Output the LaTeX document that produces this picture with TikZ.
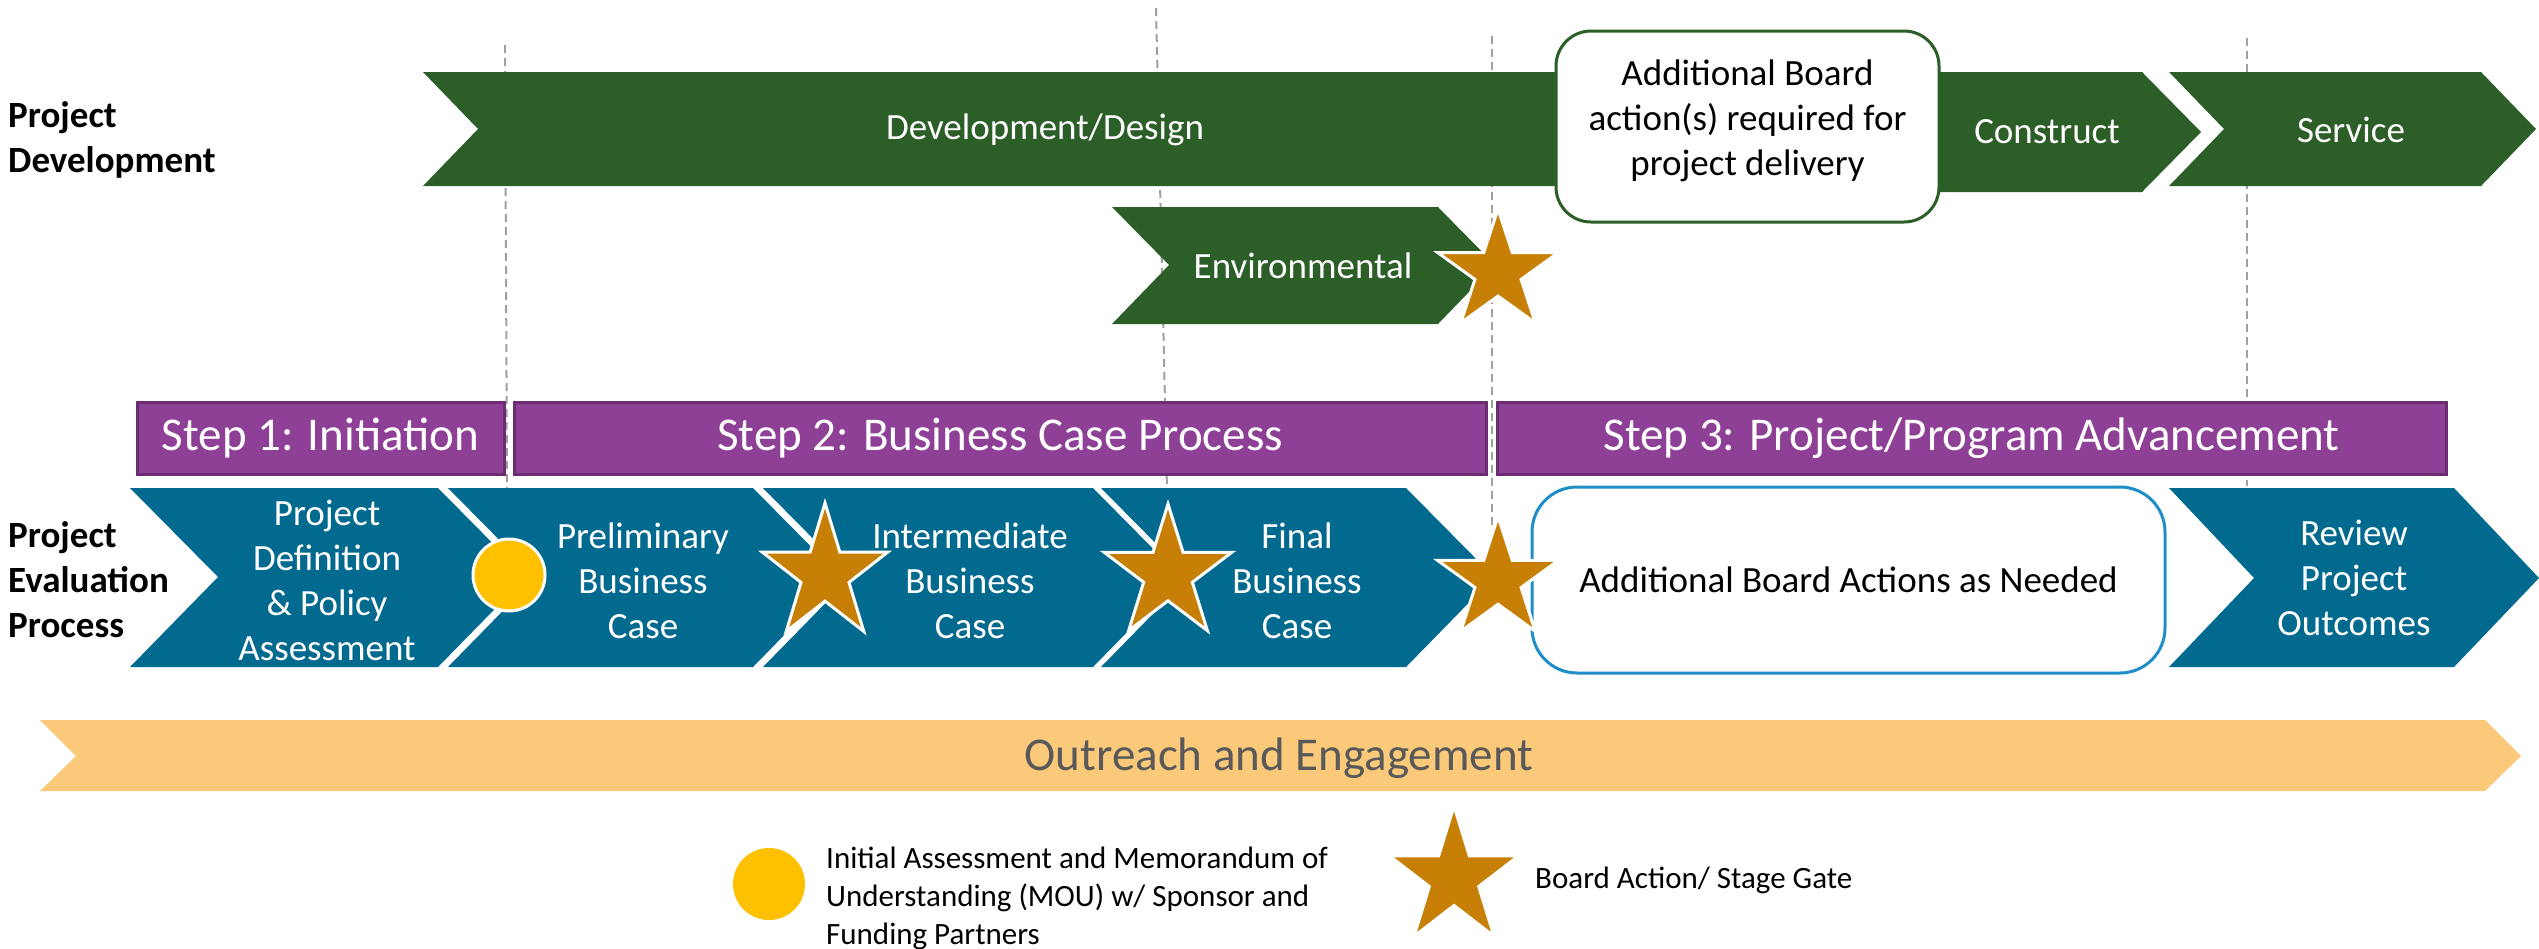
\documentclass[tikz,border=0pt]{standalone}
\usepackage{fontspec}
\setmainfont{Carlito}
\definecolor{pdgreen}{HTML}{2C5E28}
\definecolor{steppurple}{HTML}{8E3F96}
\definecolor{stepborder}{HTML}{6B2C72}
\definecolor{evteal}{HTML}{02698F}
\definecolor{gatestar}{HTML}{C77F06}
\definecolor{mougold}{HTML}{FFC000}
\definecolor{outreachfill}{HTML}{FAC979}
\definecolor{outtext}{HTML}{595959}
\definecolor{boxblue}{HTML}{1E8DC8}
\definecolor{guide}{HTML}{A0A0A0}
\tikzset{
  guideline/.style={draw=guide, line width=2pt, dash pattern=on 8pt off 5pt},
  greenbar/.style={fill=pdgreen},
  tealbar/.style={fill=evteal},
  stepbox/.style={fill=steppurple, draw=stepborder, line width=3pt, text=white, inner sep=0pt,
    minimum height=72pt, font=\fontsize{47}{56}\selectfont},
  whitetxt/.style={text=white, align=center, inner sep=0pt, font=\fontsize{37}{45}\selectfont},
  blacktxt/.style={text=black, align=center, inner sep=0pt, font=\fontsize{37}{45}\selectfont},
  rowlabel/.style={text=black, align=left, inner sep=0pt, anchor=west, font=\bfseries\fontsize{37}{45}\selectfont},
  legendtxt/.style={text=black, align=left, inner sep=0pt, anchor=west, font=\fontsize{31}{38}\selectfont},
  starshape/.style={fill=gatestar, draw=white, line width=3pt, line join=miter},
  moudot/.style={circle, fill=mougold, draw=white, line width=3pt, minimum size=72pt, inner sep=0pt},
}
\newcommand{\gatestarat}[5]{%
  \coordinate (#1) at (#2,#3);
  \begin{scope}[shift={(#2,#3)}]
    \path[starshape] (270:#4 and #5) \foreach \k in {0,...,4}{ -- ({270+72*\k}:#4 and #5) -- ({306+72*\k}:{0.382*#4} and {0.382*#5})} -- cycle;
  \end{scope}
}
\begin{document}
\begin{tikzpicture}[x=1pt,y=-1pt]
\useasboundingbox (0,0) rectangle (2539,948);
% guide lines
\draw[guideline] (505,45) -- (507,488);
\draw[guideline] (1156,8) -- (1167,490);
\draw[guideline] (1492,36) -- (1492,530);
\draw[guideline] (2247,38) -- (2247,486);
% project development row
\fill[greenbar] (423,72) -- (1700,72) -- (1700,186) -- (423,186) -- (478,129) -- cycle;
\fill[greenbar] (1700,72) -- (2142,72) -- (2201,132) -- (2142,192) -- (1700,192) -- cycle;
\fill[greenbar] (2169,72) -- (2481,72) -- (2536,129) -- (2481,186) -- (2169,186) -- (2224,129) -- cycle;
\fill[greenbar] (1112,207) -- (1438,207) -- (1495,265) -- (1438,324) -- (1112,324) -- (1169,265) -- cycle;
\node[draw=pdgreen, line width=3pt, fill=white, rounded corners=35pt,
  minimum width=383pt, minimum height=191pt] (boardreqbox) at (1747.5,126.5) {};
\node[blacktxt] (boardreq) at (1747.5,121) {Additional Board\\action(s) required for\\project delivery};
\node[whitetxt] (devdesign) at (1045,130) {Development/Design};
\node[whitetxt] (construct) at (2047,132) {Construct};
\node[whitetxt] (service) at (2351,130) {Service};
\node[whitetxt] (environmental) at (1303,266) {Environmental};
\gatestarat{envstar}{1498}{272}{63.5}{63}
% steps
\node[stepbox, minimum width=367pt] (step1) at (320.5,438) {Step 1: Initiation};
\node[stepbox, minimum width=972pt] (step2) at (1000,438) {Step 2: Business Case Process};
\node[stepbox, minimum width=949pt] (step3) at (1971.5,438) {Step 3: Project/Program Advancement};
% evaluation row
\fill[tealbar] (130,488) -- (438,488) -- (526,577) -- (438,667) -- (130,667) -- (218,577) -- cycle;
\fill[tealbar] (448,488) -- (753,488) -- (841,577) -- (753,667) -- (448,667) -- (536,577) -- cycle;
\fill[tealbar] (763,488) -- (1093,488) -- (1181,577) -- (1093,667) -- (763,667) -- (851,577) -- cycle;
\fill[tealbar] (1101,488) -- (1406,488) -- (1494,577) -- (1406,667) -- (1101,667) -- (1189,577) -- cycle;
\fill[tealbar] (2169,488) -- (2454,488) -- (2539,578) -- (2454,667) -- (2169,667) -- (2254,578) -- cycle;
\node[blacktxt, draw=boxblue, line width=3pt, fill=white, rounded corners=45pt,
  minimum width=633pt, minimum height=186pt] (boardneeded) at (1848.5,580)
  {Additional Board Actions as Needed};
\node[whitetxt] (definition) at (327,580) {Project\\Definition\\\& Policy\\Assessment};
\node[whitetxt] (preliminary) at (643,581) {Preliminary\\Business\\Case};
\node[whitetxt] (intermediate) at (970,581) {Intermediate\\Business\\Case};
\node[whitetxt] (final) at (1297,581) {Final\\Business\\Case};
\node[whitetxt] (review) at (2354,578) {Review\\Project\\Outcomes};
\node[moudot] (moudotrow) at (509,575) {};
\gatestarat{interstar}{825}{574}{66}{71}
\gatestarat{finalstar}{1168}{574}{67}{70}
\gatestarat{advstar}{1498}{580}{63.5}{63.5}
% row labels
\node[rowlabel] (lblpd) at (8,140) {Project\\Development};
\node[rowlabel] (lblpe) at (8,580) {Project\\Evaluation\\Process};
% outreach
\fill[fill=outreachfill] (40,720) -- (2485,720) -- (2521,756) -- (2485,791) -- (40,791) -- (76,756) -- cycle;
\node[inner sep=0pt, text=outtext, font=\fontsize{47}{56}\selectfont] (outreach) at (1279,758) {Outreach and Engagement};
% legend
\node[moudot, draw=none] (legdot) at (769,884) {};
\node[legendtxt] (legdottxt) at (826,898) {Initial Assessment and Memorandum of\\Understanding (MOU) w/ Sponsor and\\Funding Partners};
\gatestarat{legstar}{1454}{878}{68}{72}
\node[legendtxt] (legstartxt) at (1535,880) {Board Action/ Stage Gate};
\end{tikzpicture}
\end{document}
